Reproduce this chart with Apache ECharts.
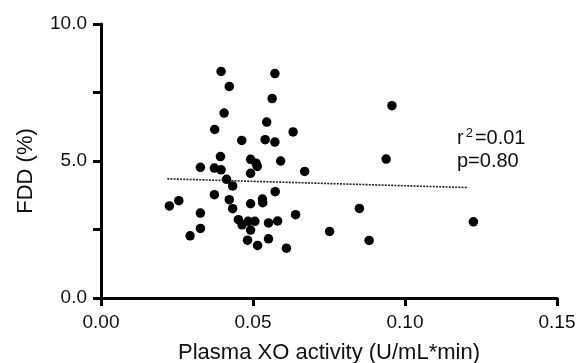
<!DOCTYPE html>
<html>
<head>
<meta charset="utf-8">
<script src="https://cdn.jsdelivr.net/npm/echarts@6/dist/echarts.min.js"></script>
<style>
  html, body { margin: 0; padding: 0; background: #fff; }
  #chart { width: 579px; height: 363px; }
</style>
</head>
<body>
<div id="chart"></div>
<script>
// FDD vs plasma XO activity, one dot per subject.
const xoActivity = [
  0.0395, 0.0422, 0.0572, 0.0563, 0.0405, 0.0545, 0.0374, 0.0632, 0.0463, 0.0540,
  0.0572, 0.0393, 0.0492, 0.0510, 0.0514, 0.0327, 0.0591, 0.0373, 0.0395, 0.0492,
  0.0413, 0.0433, 0.0373, 0.0573, 0.0225, 0.0256, 0.0422, 0.0327, 0.0433, 0.0492,
  0.0531, 0.0532, 0.0640, 0.0293, 0.0327, 0.0452, 0.0464, 0.0484, 0.0506, 0.0492,
  0.0551, 0.0581, 0.0482, 0.0515, 0.0551, 0.0610, 0.0670, 0.0752, 0.0957, 0.0938,
  0.0850, 0.0882, 0.1225
];
const fdd = [
  8.27, 7.72, 8.19, 7.28, 6.75, 6.42, 6.15, 6.06, 5.75, 5.78,
  5.69, 5.16, 5.06, 4.92, 4.80, 4.77, 5.00, 4.74, 4.68, 4.55,
  4.33, 4.09, 3.77, 3.88, 3.36, 3.55, 3.59, 3.10, 3.26, 3.44,
  3.61, 3.48, 3.04, 2.27, 2.54, 2.86, 2.67, 2.80, 2.80, 2.48,
  2.74, 2.81, 2.11, 1.92, 2.16, 1.82, 4.62, 2.43, 7.02, 5.07,
  3.27, 2.10, 2.78
];

// regression line ends (dotted)
const fitX = [0.0218, 0.1205];
const fitY = [4.35, 4.03];

const xTicks = [0, 0.05, 0.10, 0.15];
const yTicks = [0, 2.5, 5, 7.5, 10];
const yLabelled = [0, 5, 10];

const FONT = "Liberation Sans";
const INK = "#000";

const chart = echarts.init(document.getElementById("chart"), null, { renderer: "canvas" });

const axisCommon = {
  axisLine: { show: true, onZero: false, lineStyle: { color: INK, width: 3 } },
  axisTick: { show: true, length: 8, lineStyle: { color: INK, width: 3 } },
  splitLine: { show: false },
  nameTextStyle: { color: "#111", fontFamily: FONT, fontSize: 22 },
};

chart.setOption({
  animation: false,
  // fixed plot box; don't let v6 shrink it to fit the axis names
  grid: { left: 101, right: 22, top: 24, bottom: 65, containLabel: false, outerBoundsMode: "none" },
  xAxis: {
    ...axisCommon,
    type: "value",
    min: xTicks[0],
    max: xTicks[xTicks.length - 1],
    interval: xTicks[1] - xTicks[0],
    name: "Plasma XO activity (U/mL*min)",
    nameLocation: "middle",
    nameGap: 44,
    axisLabel: {
      color: "#111", fontFamily: FONT, fontSize: 19, margin: 15,
      formatter: (v) => v.toFixed(2),
    },
  },
  yAxis: {
    ...axisCommon,
    type: "value",
    min: yTicks[0],
    max: yTicks[yTicks.length - 1],
    interval: yTicks[1] - yTicks[0],
    name: "FDD (%)",
    nameLocation: "middle",
    nameRotate: 90,
    nameGap: 64,
    nameTextStyle: { ...axisCommon.nameTextStyle, padding: [0, 20, 0, 0] },
    axisLabel: {
      color: "#111", fontFamily: FONT, fontSize: 19, margin: 14,
      formatter: (v) => yLabelled.some((t) => Math.abs(t - v) < 1e-9) ? v.toFixed(1) : "",
    },
  },
  series: [
    {
      type: "scatter",
      data: xoActivity.map((x, i) => [x, fdd[i]]),
      symbol: "circle",
      symbolSize: 9.5,
      itemStyle: { color: "#000", opacity: 1 },
      z: 3,
    },
    {
      type: "line",
      data: fitX.map((x, i) => [x, fitY[i]]),
      symbol: "none",
      lineStyle: { color: "#222", width: 1.6, type: [2, 1.2] },
      z: 2,
    },
  ],
  graphic: [
    {
      type: "text",
      left: 457,
      top: 127,
      style: {
        text: "{b|r}{sup|2}{b|=0.01}\n{b|p=0.80}",
        rich: {
          b: { fontFamily: FONT, fontSize: 20, fill: "#111", lineHeight: 23 },
          sup: { fontFamily: FONT, fontSize: 13, fill: "#111", verticalAlign: "top", lineHeight: 23, padding: [0, 2, 9, 2] },
        },
      },
    },
  ],
});
</script>
</body>
</html>
